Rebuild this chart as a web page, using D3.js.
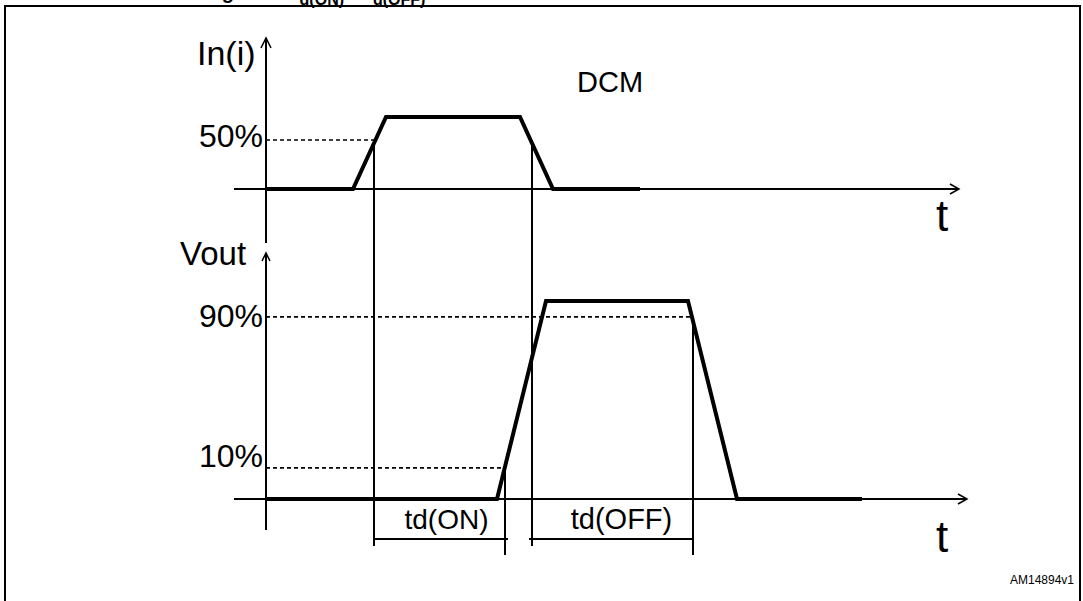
<!DOCTYPE html>
<html><head><meta charset="utf-8">
<script src="https://cdn.jsdelivr.net/npm/d3@7"></script>
<style>
body{margin:0;background:#fff}
svg{display:block}
text{font-family:"Liberation Sans",Arial,Helvetica,sans-serif;fill:#000}
</style>
</head><body>
<svg id="c" width="1083" height="601"></svg>
<script>
// ---------- data ----------
const titleParts = ["Figure 9. t", "d(ON)", " \u2013 t", "d(OFF)"];
const timeLabel = "t";
const currentLabel = "In(i)";
const voltageLabel = "Vout";
const modeLabel = "DCM";
const figureCode = "AM14894v1";
// waveform corner points: [time, level] (level 0 = off, 1 = full)
const currentWave = [[0,0],[87,0],[120,1],[254,1],[287,0],[374,0]];
const voltageWave = [[0,0],[231,0],[280,1],[422,1],[471,0],[596,0]];
// threshold levels with time where each dashed line meets the waveform
const currentLevels = [{label:"50%", value:0.68, tEnd:108}];
const voltageLevels = [{label:"90%", value:0.92, tEnd:426},{label:"10%", value:0.157, tEnd:239}];
// delay intervals
const delays = [{label:"td(ON)", t0:108, t1:239, s0:0.68, s1:0.157},
                {label:"td(OFF)", t0:266, t1:427, s0:0.68, s1:0.92}];

// ---------- layout ----------
const svg = d3.select("#c");
const x = d3.scaleLinear().domain([0,700]).range([266,966]);
const yI = d3.scaleLinear().domain([0,1]).range([189,117]);
const yV = d3.scaleLinear().domain([0,1]).range([499,301]);

// frame
svg.append("rect").attr("x",5).attr("y",6).attr("width",1075).attr("height",640)
  .attr("fill","none").attr("stroke","#000").attr("stroke-width",2);

// title (mostly cut off at the top edge)
const title = svg.append("text").attr("x",204).attr("y",-1)
  .attr("font-size",20).attr("font-weight","bold");
title.append("tspan").text(titleParts[0]);
title.append("tspan").attr("dy",6).attr("font-size",16).text(titleParts[1]);
title.append("tspan").attr("dy",-6).text(titleParts[2]);
title.append("tspan").attr("dy",6).attr("font-size",16).text(titleParts[3]);

const line = (g, pts, w, dash) => g.append("path")
  .attr("d", d3.line()(pts)).attr("fill","none").attr("stroke","#000")
  .attr("stroke-width", w).attr("stroke-dasharray", dash || null)
  .attr("stroke-linejoin","miter");

const g = svg.append("g");

// axes
const x0 = x(0);
line(g, [[x0, 38],[x0, 243]], 2);
line(g, [[x0-5, 48],[x0, 38],[x0+5, 48]], 1.5);
line(g, [[x0, 253],[x0, 530]], 2);
line(g, [[x0-4, 261],[x0, 253],[x0+4, 261]], 1.5);
line(g, [[x(-32), yI(0)],[x(693), yI(0)]], 2);
line(g, [[x(684), yI(0)-5],[x(693), yI(0)],[x(684), yI(0)+5]], 1.5);
line(g, [[x(-32), yV(0)],[x(701), yV(0)]], 2);
line(g, [[x(692), yV(0)-5],[x(701), yV(0)],[x(692), yV(0)+5]], 1.5);

// axis labels
svg.append("text").attr("x",197).attr("y",65).attr("font-size",34).text(currentLabel);
svg.append("text").attr("x",180).attr("y",265).attr("font-size",33).text(voltageLabel);
svg.append("text").attr("x",936).attr("y",231).attr("font-size",44).text(timeLabel);
svg.append("text").attr("x",936).attr("y",552).attr("font-size",44).text(timeLabel);
svg.append("text").attr("x",577).attr("y",92).attr("font-size",29).text(modeLabel);
svg.append("text").attr("x",1074).attr("y",584).attr("font-size",12).attr("text-anchor","end").text(figureCode);

// threshold dashed lines + labels
const labelDy = {"50%":7, "90%":10, "10%":-1};
currentLevels.forEach(d => {
  line(g, [[x0, yI(d.value)],[x(d.tEnd), yI(d.value)]], 1.6, "4,3");
  svg.append("text").attr("x",263).attr("y",yI(d.value)+labelDy[d.label])
    .attr("text-anchor","end").attr("font-size",32).text(d.label);
});
voltageLevels.forEach(d => {
  line(g, [[x0, yV(d.value)],[x(d.tEnd), yV(d.value)]], 1.6, "4,3");
  svg.append("text").attr("x",263).attr("y",yV(d.value)+labelDy[d.label])
    .attr("text-anchor","end").attr("font-size",32).text(d.label);
});

// delay markers
const dimY = 539;
delays.forEach((d, i) => {
  const a = x(d.t0), b = x(d.t1);
  const ya = yI(d.s0), yb = yV(d.s1);
  line(g, [[a, ya],[a, 546]], 2);
  line(g, [[b, yb],[b, 555]], 2);
  line(g, i === 0 ? [[a, dimY],[b+3, dimY]] : [[a-3, dimY],[b, dimY]], 2);
  svg.append("text").attr("x", (a+b)/2 + (i===0 ? 7 : 9)).attr("y", 529)
    .attr("text-anchor","middle").attr("font-size", i===0 ? 28 : 29).text(d.label);
});

// waveforms
line(g, currentWave.map(d => [x(d[0]), yI(d[1])]), 4);
line(g, voltageWave.map(d => [x(d[0]), yV(d[1])]), 4);
</script>
</body></html>
